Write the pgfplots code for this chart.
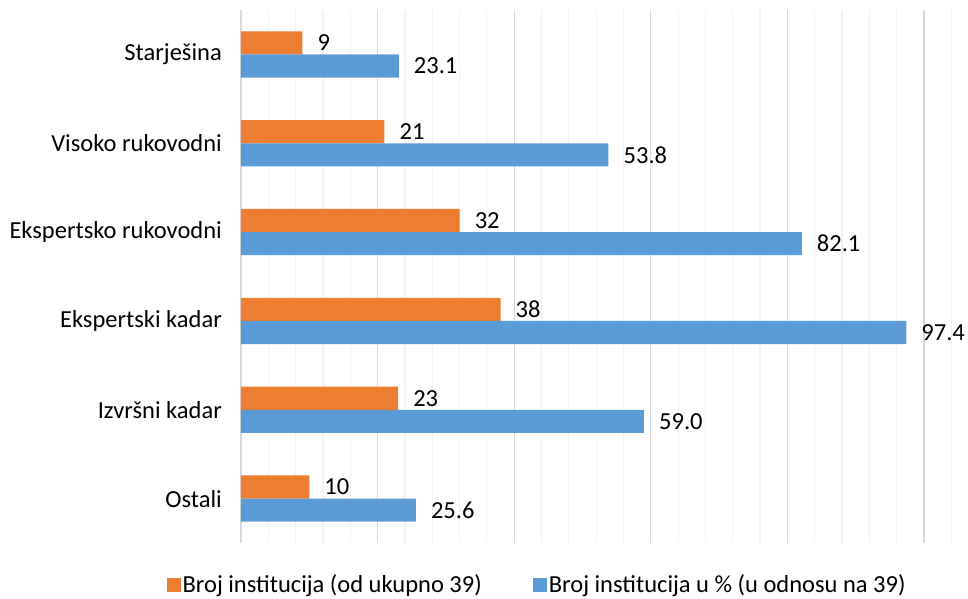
\documentclass[border=0pt]{standalone}
\usepackage{fontspec}
\setmainfont{Carlito}
\usepackage{pgfplots}
\pgfplotsset{compat=1.18}
\definecolor{cOr}{HTML}{ED7D31}
\definecolor{cBl}{HTML}{5B9BD5}
\definecolor{gMaj}{HTML}{D9D9D9}
\definecolor{gMin}{HTML}{F2F2F2}
\newcommand{\fs}{\fontsize{24.5bp}{29bp}\selectfont}
\begin{document}
\begin{tikzpicture}
\begin{axis}[
  name=ax,
  scale only axis,
  width=724bp, height=533bp,
  xbar,
  bar width=0.26,
  xmin=0, xmax=106,
  ymin=-0.5, ymax=5.5,
  y dir=reverse,
  axis line style={draw=none},
  xtick={0,20,...,100},
  minor xtick={4,8,...,104},
  xticklabels={},
  xmajorgrids, xminorgrids,
  major grid style={gMaj, line width=1.2bp},
  minor grid style={gMin, line width=1.2bp},
  major tick length=0, minor tick length=0,
  ytick={0,1,2,3,4,5},
  yticklabels={Starješina,Visoko rukovodni,Ekspertsko rukovodni,Ekspertski kadar,Izvršni kadar,Ostali},
  yticklabel style={font=\fs, anchor=east, inner sep=0pt, xshift=-19bp},
  /pgf/number format/assume math mode=true,
  nodes near coords,
  nodes near coords style={font=\fs, anchor=west, inner sep=0pt, xshift=15bp, black},
  legend columns=2,
  legend style={draw=none, fill=none, font=\fs, at={(0.409,-0.078)}, anchor=center,
    inner sep=0pt, nodes={inner sep=1.5bp},
    /tikz/every even column/.append style={column sep=50bp}},
  legend image code/.code={\fill[#1] (0bp,-7bp) rectangle (14bp,7bp);},
]
\addplot[draw=none, fill=cOr, bar shift=-0.13,
  nodes near coords={\pgfmathprintnumber[fixed,precision=0]{\pgfplotspointmeta}}]
  coordinates {(9,0) (21,1) (32,2) (38,3) (23,4) (10,5)};
\addlegendentry{Broj institucija (od ukupno 39)}
\addplot[draw=none, fill=cBl, bar shift=0.13,
  nodes near coords={\pgfmathprintnumber[fixed,fixed zerofill,precision=1]{\pgfplotspointmeta}}]
  coordinates {(23.1,0) (53.8,1) (82.1,2) (97.4,3) (59.0,4) (25.6,5)};
\addlegendentry{Broj institucija u \% (u odnosu na 39)}
\end{axis}
\pgfresetboundingbox
\path[use as bounding box] ([xshift=-241bp,yshift=-56bp]ax.south west) rectangle ([xshift=3bp,yshift=10bp]ax.north east);
\end{tikzpicture}
\end{document}
